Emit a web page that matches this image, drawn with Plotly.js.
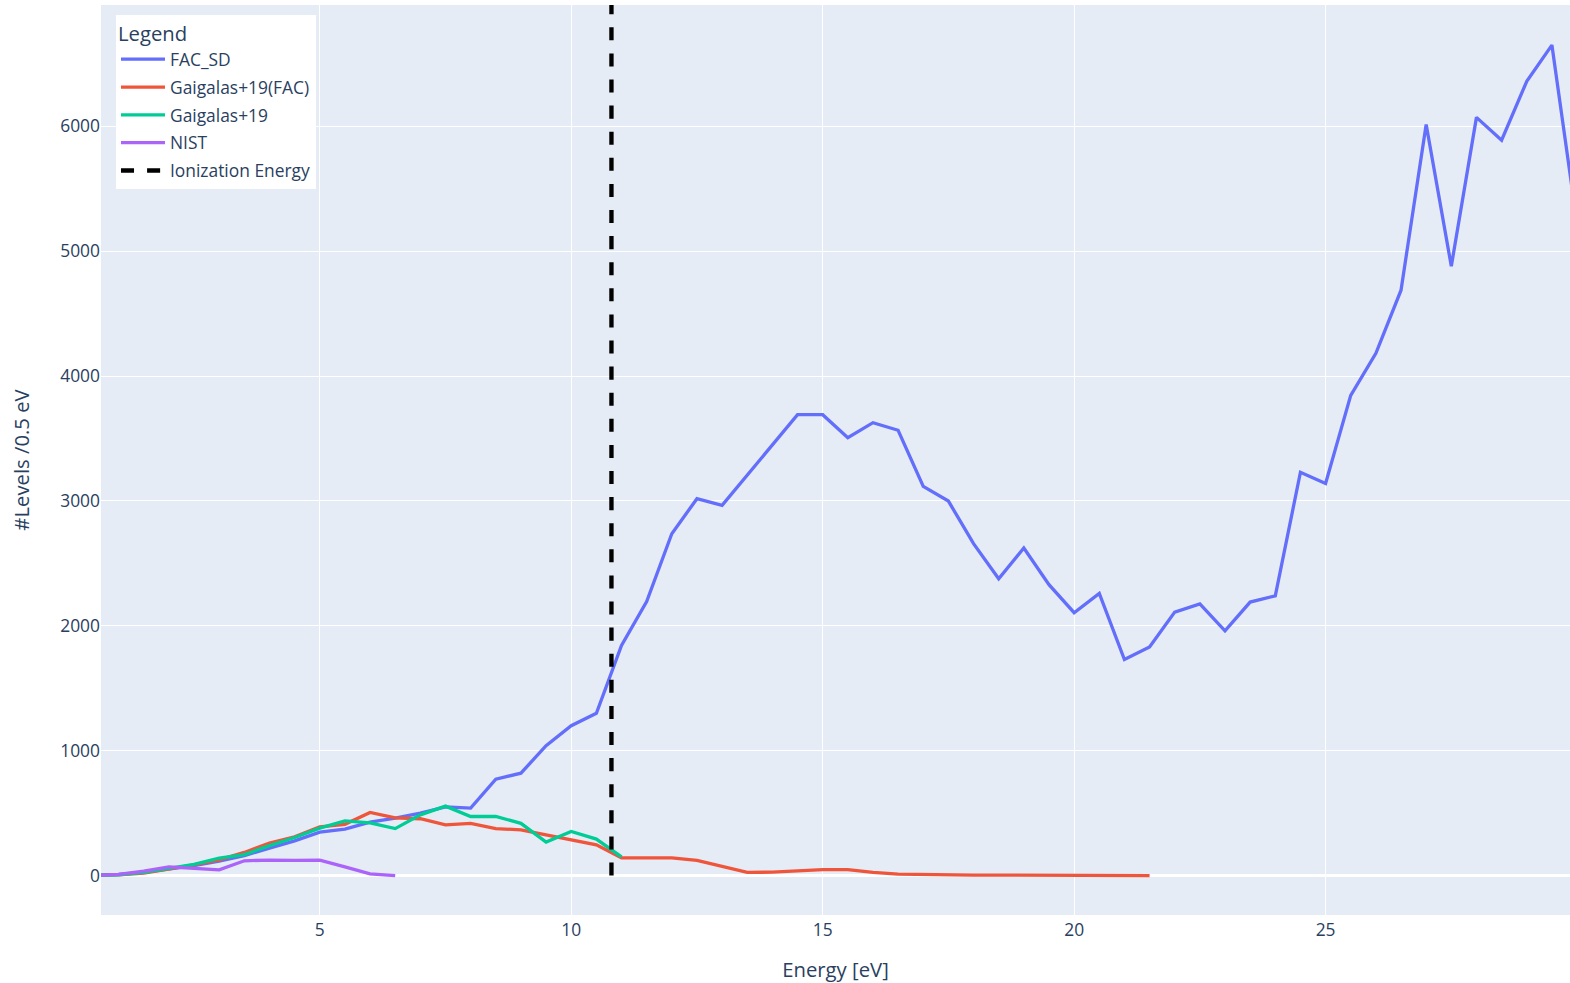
<!DOCTYPE html>
<html>
<head>
<meta charset="utf-8">
<script src="https://cdn.plot.ly/plotly-3.0.1.min.js"></script>
<style>html,body{margin:0;padding:0;background:#fff;}#chart{width:1570px;height:983px;}</style>
</head>
<body>
<div id="chart"></div>
<script>
// FAC_SD
const facX = [0.5,1,1.5,2,2.5,3,3.5,4,4.5,5,5.5,6,6.5,7,7.5,8,8.5,9,9.5,10,10.5,11,11.5,12,12.5,13,13.5,14,14.5,15,15.5,16,16.5,17,17.5,18,18.5,19,19.5,20,20.5,21,21.5,22,22.5,23,23.5,24,24.5,25,25.5,26,26.5,27,27.5,28,28.5,29,29.5,30];
const facY = [2,10,25,50,80,115,160,220,278,348,372,428,460,500,550,540,772,820,1040,1200,1300,1843,2195,2738,3018,2965,3210,3450,3691,3691,3507,3627,3566,3117,2999,2658,2377,2623,2330,2105,2260,1730,1830,2110,2175,1960,2190,2240,3230,3140,3846,4183,4688,6015,4880,6072,5889,6360,6651,5220];

// Gaigalas+19(FAC)
const gfX = [0.5,1,1.5,2,2.5,3,3.5,4,4.5,5,5.5,6,6.5,7,7.5,8,8.5,9,9.5,10,10.5,11,11.5,12,12.5,13,13.5,14,14.5,15,15.5,16,16.5,17,17.5,18,18.5,19,19.5,20,20.5,21,21.5];
const gfY = [2,5,20,50,85,125,185,260,310,390,410,505,462,455,406,418,376,366,326,286,246,142,142,142,122,72,25,27,38,48,48,25,12,8,6,4,3,2,2,1,1,1,0];

// Gaigalas+19
const gX = [0.5,1,1.5,2,2.5,3,3.5,4,4.5,5,5.5,6,6.5,7,7.5,8,8.5,9,9.5,10,10.5,11];
const gY = [2,5,25,55,90,140,168,240,305,380,438,422,376,486,556,473,473,418,268,353,292,150];

// NIST
const nX = [0.5,1,1.5,2,2.5,3,3.5,4,4.5,5,5.5,6,6.5];
const nY = [0,10,35,70,58,46,118,124,122,124,70,14,0];

// Ionization energy
const ionX = [10.8,10.8];
const ionY = [0,7000];

const S = 1.45;
const LW = 3.3;
const traces = [
  {x: facX, y: facY, name: 'FAC_SD', legendgroup: 'a', mode: 'lines', line: {color: '#636efa', width: LW}},
  {x: gfX, y: gfY, name: 'Gaigalas+19(FAC)', legendgroup: 'b', mode: 'lines', line: {color: '#EF553B', width: LW}},
  {x: gX, y: gY, name: 'Gaigalas+19', legendgroup: 'c', mode: 'lines', line: {color: '#00cc96', width: LW}},
  {x: nX, y: nY, name: 'NIST', legendgroup: 'd', mode: 'lines', line: {color: '#ab63fa', width: LW}},
  {x: ionX, y: ionY, name: 'Ionization Energy', legendgroup: 'e', mode: 'lines', line: {color: 'black', width: 3*S, dash: 'dash'}}
];

const layout = {
  width: 1570, height: 983,
  margin: {l: 101, r: 0, t: 5, b: 68},
  paper_bgcolor: '#ffffff',
  plot_bgcolor: '#E5ECF6',
  font: {family: '"Open Sans", verdana, arial, sans-serif', size: 12*S, color: '#2a3f5f'},
  showlegend: true,
  legend: {
    x: 0.0102, y: 0.989, xanchor: 'left', yanchor: 'top',
    bgcolor: '#ffffff',
    traceorder: 'grouped',
    tracegroupgap: 2.2,
    itemwidth: 44,
    font: {size: 12*S},
    title: {text: 'Legend', font: {size: 14*S}}
  },
  xaxis: {
    range: [0.65, 29.86],
    tickmode: 'linear', tick0: 0, dtick: 5,
    gridcolor: 'white', gridwidth: S, zeroline: false,
    showline: false, ticks: '',
    ticklabelstandoff: 3,
    tickfont: {size: 12*S},
    title: {text: 'Energy [eV]', font: {size: 14*S}, standoff: 23}
  },
  yaxis: {
    range: [-316, 6972],
    tickmode: 'linear', tick0: 0, dtick: 1000,
    gridcolor: 'white', gridwidth: S, zeroline: true, zerolinecolor: 'white', zerolinewidth: 2*S,
    showline: false, ticks: '',
    tickfont: {size: 12*S},
    title: {text: '#Levels /0.5 eV', font: {size: 14*S}, standoff: 25}
  }
};

Plotly.newPlot('chart', traces, layout, {displayModeBar: false, responsive: false});
</script>
</body>
</html>
